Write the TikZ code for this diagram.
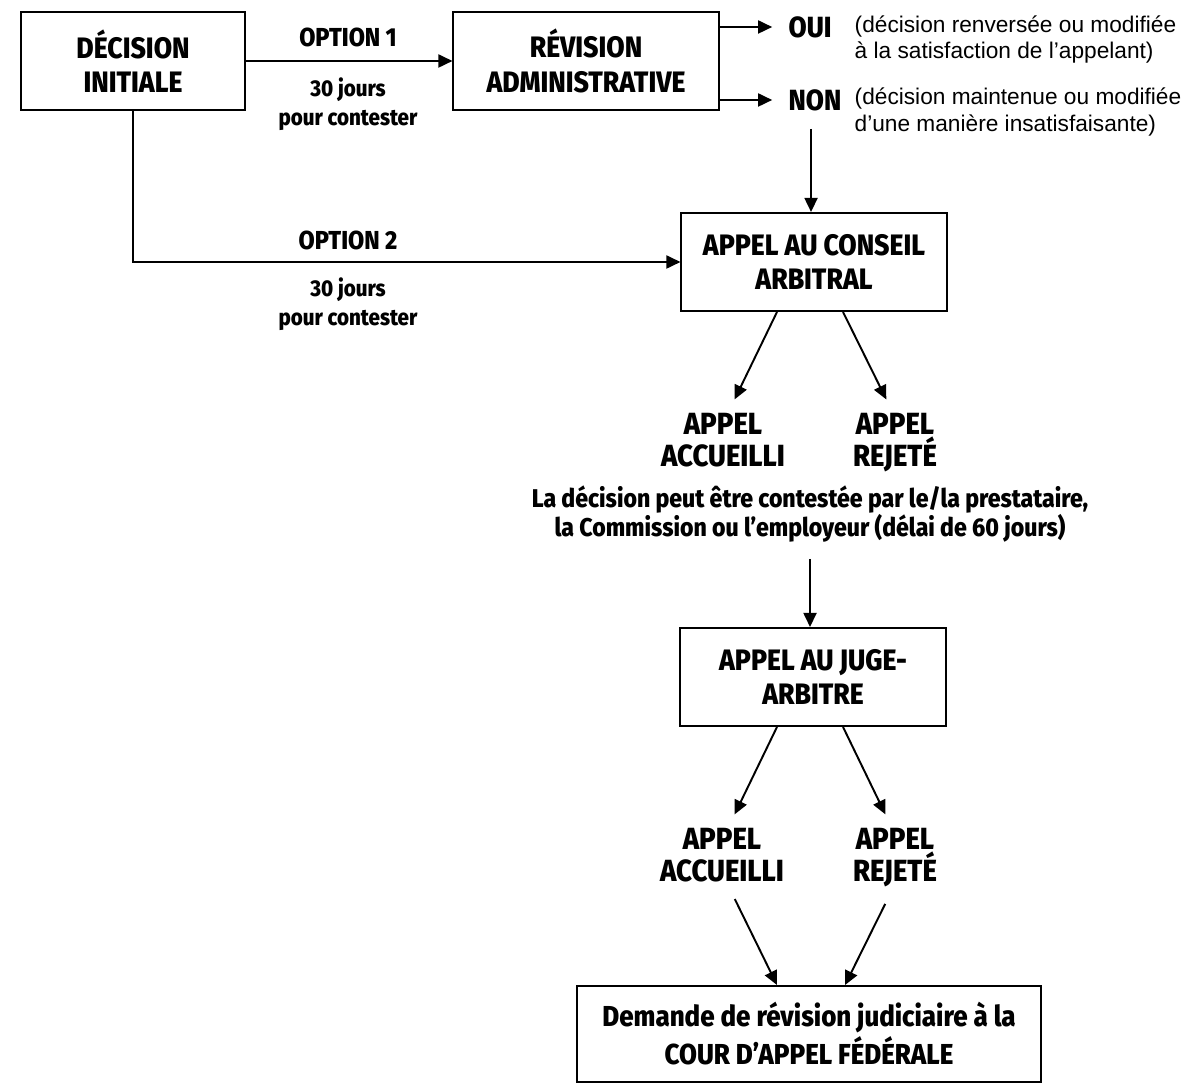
\documentclass[tikz,border=0pt]{standalone}
\usepackage{fontspec}
\setmainfont{Fira Sans}[FakeStretch=0.9,BoldFont={Fira Sans ExtraBold}]
\newfontfamily\notefont{Liberation Sans}
\usetikzlibrary{arrows.meta}

\begin{document}
\begin{tikzpicture}[x=0.01cm,y=-0.01cm,
  box/.style={draw,line width=0.55pt,minimum height=0.98cm,align=center,inner sep=0pt,font=\bfseries\fontsize{8.4}{9.8}\selectfont},
  big/.style={align=center,anchor=north,inner sep=0pt,font=\bfseries\fontsize{8.7}{9.1}\selectfont},
  mid/.style={align=center,inner sep=0pt,font=\bfseries\fontsize{7.4}{8.5}\selectfont},
  sml/.style={align=center,inner sep=0pt,font=\bfseries\fontsize{6.5}{8.1}\selectfont},
  note/.style={align=left,anchor=west,inner sep=0pt,font=\notefont\fontsize{6.45}{7.4}\selectfont},
  arr/.style={line width=0.55pt,-{Triangle[length=4pt,width=3.7pt]}}]
\useasboundingbox (0,0) rectangle (1186,1083);

\node[box,minimum width=2.24cm] (init) at (133,61) {DÉCISION\\INITIALE};
\node[box,minimum width=2.65cm] (rev) at (586,61) {RÉVISION\\ADMINISTRATIVE};
\node[box,minimum width=2.65cm] (cons) at (814,262) {APPEL AU CONSEIL\\ARBITRAL};
\node[box,minimum width=2.65cm] (juge) at (813,677) {APPEL AU JUGE-\\ARBITRE};
\node[box,minimum width=4.63cm,minimum height=0.96cm,font=\bfseries\fontsize{8.2}{9.1}\selectfont] (cour) at (809,1034) {Demande de révision judiciaire à la\\COUR D’APPEL FÉDÉRALE};

\node[mid] (opt1) at (348,37) {OPTION 1};
\node[sml] (jrs1) at (348,104) {30 jours\\pour contester};
\node[mid] (opt2) at (348,240) {OPTION 2};
\node[sml] (jrs2) at (348,304) {30 jours\\pour contester};
\node[mid,anchor=west,font=\bfseries\fontsize{8.3}{9}\selectfont] (oui) at (788,27) {OUI};
\node[mid,anchor=west,font=\bfseries\fontsize{8.3}{9}\selectfont] (non) at (788,100) {NON};
\node[note] (ouitxt) at (854,40) {(décision renversée ou modifiée\\à la satisfaction de l’appelant)};
\node[note] (nontxt) at (854,112) {(décision maintenue ou modifiée\\d’une manière insatisfaisante)};
\node[big] (acc1) at (723,413) {APPEL\\ACCUEILLI};
\node[big] (rej1) at (895,413) {APPEL\\REJETÉ};
\node[sml,font=\bfseries\fontsize{7.3}{8.3}\selectfont] (contest) at (810,514) {La décision peut être contestée par le/la prestataire,\\la Commission ou l’employeur (délai de 60 jours)};
\node[big] (acc2) at (722,828) {APPEL\\ACCUEILLI};
\node[big] (rej2) at (895,828) {APPEL\\REJETÉ};

\draw[arr] (init) -- (rev);
\draw[arr] (init.south) |- (cons.west);
\draw[arr,shorten >=4.5pt] (rev.east |- oui.west) -- (oui.west);
\draw[arr,shorten >=4.5pt] (rev.east |- non.west) -- (non.west);
\draw[arr,shorten <=5pt] ([xshift=-0.04cm]non.south) -- ([xshift=-0.04cm]non.south |- cons.north);
\draw[arr,shorten >=4.3pt] ([xshift=-0.37cm]cons.south) -- ([xshift=0.05cm]acc1.north);
\draw[arr,shorten >=4.3pt] ([xshift=0.29cm]cons.south) -- ([xshift=-0.02cm]rej1.north);
\draw[arr,shorten <=4.5pt] (contest.south) -- (contest.south |- juge.north);
\draw[arr,shorten >=4.3pt] ([xshift=-0.36cm]juge.south) -- ([xshift=0.06cm]acc2.north);
\draw[arr,shorten >=4.3pt] ([xshift=0.3cm]juge.south) -- ([xshift=-0.03cm]rej2.north);
\draw[arr,shorten <=5pt] ([xshift=0.05cm]acc2.south) -- ([xshift=-0.32cm]cour.north);
\draw[arr,shorten <=5pt] ([xshift=-0.02cm]rej2.south) -- ([xshift=0.36cm]cour.north);
\end{tikzpicture}
\end{document}
